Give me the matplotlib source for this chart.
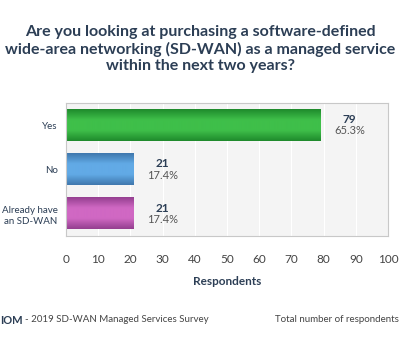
import matplotlib
matplotlib.use("Agg")
import matplotlib.pyplot as plt
import numpy as np
from matplotlib.colors import LinearSegmentedColormap

categories = ["Yes", "No", "Already have\nan SD-WAN"]
counts = [79, 21, 21]
percents = ["65.3%", "17.4%", "17.4%"]
xticks = [0, 10, 20, 30, 40, 50, 60, 70, 80, 90, 100]

BAR_COLORS = [("#1f8a2c", "#3fbf4a"), ("#3f78ad", "#62aae6"), ("#943f90", "#d068c3")]
NAVY = "#2c3e55"

plt.rcParams["font.family"] = ["Lato", "DejaVu Sans"]

fig = plt.figure(figsize=(4.0, 3.39), dpi=100)
ax = fig.add_axes([66 / 400, 1 - 236 / 339, 322 / 400, 133 / 339])
ax.set_facecolor("#f4f4f4")

ypos = np.arange(len(categories))
height = 0.7
for y, c, (dark, light) in zip(ypos, counts, BAR_COLORS):
    cmap = LinearSegmentedColormap.from_list("g", [dark, light, light, dark])
    grad = np.linspace(0, 1, 64).reshape(-1, 1)
    ax.imshow(grad, cmap=cmap, aspect="auto", interpolation="bicubic",
              extent=(0, c, y + height / 2, y - height / 2), zorder=2)

ax.set_xlim(0, 100)
ax.set_ylim(len(categories) - 0.5, -0.5)
ax.set_xticks(xticks)
ax.set_yticks(ypos)
ax.set_yticklabels(categories, fontsize=7, color=NAVY, linespacing=1.3)
ax.tick_params(axis="x", labelsize=8.5, colors="#444444", length=0, pad=13)
ax.tick_params(axis="y", length=0, pad=6)
ax.grid(axis="x", color="#ffffff", linewidth=0.8, zorder=0)
ax.set_axisbelow(True)
for s in ax.spines.values():
    s.set_color("#c8c8c8")
    s.set_linewidth(0.8)
ax.set_xlabel("Respondents", fontsize=8.5, color=NAVY, fontweight="bold", labelpad=8)

for y, c, p in zip(ypos, counts, percents):
    ax.annotate(str(c), (c, y), xytext=(21, 4), textcoords="offset points",
                ha="center", va="center", fontsize=8.5, fontweight="bold", color=NAVY)
    ax.annotate(p, (c, y), xytext=(21, -4), textcoords="offset points",
                ha="center", va="center", fontsize=8, color="#555555")

fig.text(0.5, 1 - 49 / 339, "Are you looking at purchasing a software-defined\n"
         "wide-area networking (SD-WAN) as a managed service\n"
         "within the next two years?", ha="center", va="center",
         fontsize=11.5, fontweight="bold", color=NAVY, linespacing=1.2)

fig.text(0.0, 1 - 320 / 339, "IOM", ha="left", va="center", fontsize=8,
         fontweight="bold", color=NAVY)
fig.text(0.062, 1 - 320 / 339, "- 2019 SD-WAN Managed Services Survey", ha="left",
         va="center", fontsize=7, color="#444444")
fig.text(0.997, 1 - 320 / 339, "Total number of respondents", ha="right",
         va="center", fontsize=7, color="#444444")

fig.savefig("out.png", dpi=100, facecolor="white")
